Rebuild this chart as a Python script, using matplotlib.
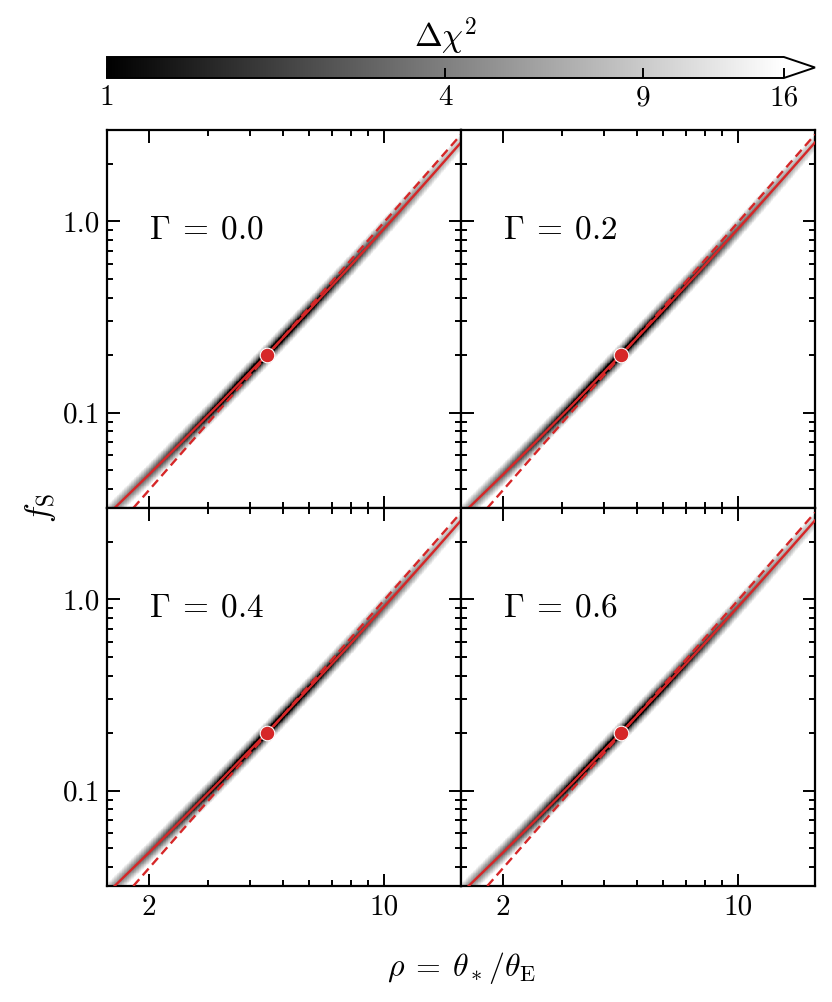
import numpy as np
import matplotlib
matplotlib.use("Agg")
import matplotlib.pyplot as plt
from matplotlib.colors import LogNorm

plt.rcParams["font.family"] = "serif"
plt.rcParams["font.serif"] = ["cmr10", "DejaVu Serif"]
plt.rcParams["mathtext.fontset"] = "cm"
plt.rcParams["axes.unicode_minus"] = False
plt.rcParams["axes.formatter.use_mathtext"] = True

# values
gammas = [0.0, 0.2, 0.4, 0.6]
best_rho = 4.48
best_fs = 0.2

# best-fit degeneracy curve (solid red)
solid_rho = [1.5, 1.58, 2.0, 2.5, 3.2, 4.48, 6.0, 8.0, 11.0, 14.0, 17.0]
solid_fs = [0.0291, 0.0318, 0.0475, 0.0702, 0.1087, 0.2, 0.344, 0.591, 1.093, 1.755, 2.583]

# fs ~ rho^2 reference line (dashed red), end points
dashed_rho = [1.797, 17.0]
dashed_fs = [0.0318, 2.84]

# width of the chi2 valley (dex): across the ridge and along it
width_across = 0.017
width_along = 0.2

xlim = (1.5, 17.0)
ylim = (0.0318, 3.0)
red = "#d62728"

fig = plt.figure(figsize=(8.32, 10.02), dpi=100)

W, H = 832.0, 1002.0
left, mid, right = 107 / W, 461 / W, 815 / W
top, hmid, bot = 1 - 130 / H, 1 - 508 / H, 1 - 886 / H
pw, ph = mid - left, top - hmid

boxes = [
    [left, hmid, pw, ph],
    [mid, hmid, right - mid, ph],
    [left, bot, pw, hmid - bot],
    [mid, bot, right - mid, hmid - bot],
]

# chi2 map grid
lx = np.linspace(np.log10(xlim[0]), np.log10(xlim[1]), 500)
ly = np.linspace(np.log10(ylim[0]), np.log10(ylim[1]), 800)
LX, LY = np.meshgrid(lx, ly)
ridge = np.interp(LX, np.log10(solid_rho), np.log10(solid_fs))
dchi2 = ((LY - ridge) / width_across) ** 2 + ((LX - np.log10(best_rho)) / width_along) ** 2
dchi2 = np.clip(dchi2, 0.5, None)

cmap = plt.get_cmap("gray").with_extremes(over="white")
norm = LogNorm(vmin=1, vmax=16)

mesh = None
for i, (box, g) in enumerate(zip(boxes, gammas)):
    ax = fig.add_axes(box)
    mesh = ax.pcolormesh(10 ** lx, 10 ** ly, dchi2, cmap=cmap, norm=norm,
                         shading="auto", rasterized=True)
    ax.plot(solid_rho, solid_fs, color=red, lw=1.7, zorder=3)
    ax.plot(dashed_rho, dashed_fs, color=red, lw=1.7, dashes=(3.8, 2.2), zorder=3)
    ax.plot([best_rho], [best_fs], "o", color=red, ms=10.5, mec="white", mew=0.8, zorder=4)
    ax.set_xscale("log")
    ax.set_yscale("log")
    ax.set_xlim(xlim)
    ax.set_ylim(ylim)
    ax.set_xticks([2, 10])
    ax.set_xticks([3, 4, 5, 6, 7, 8, 9], minor=True)
    ax.set_yticks([0.1, 1.0])
    ax.set_yticks([0.04, 0.05, 0.06, 0.07, 0.08, 0.09, 0.2, 0.3, 0.4, 0.5,
                   0.6, 0.7, 0.8, 0.9, 2, 3], minor=True)
    ax.xaxis.set_minor_formatter(plt.NullFormatter())
    ax.yaxis.set_minor_formatter(plt.NullFormatter())
    ax.tick_params(which="both", direction="in", top=True, right=True,
                   width=1.4, labelsize=21)
    ax.tick_params(which="major", length=9)
    ax.tick_params(which="minor", length=4.5)
    ax.tick_params(axis="x", pad=6)
    ax.tick_params(axis="y", pad=5)
    if i >= 2:
        ax.set_xticklabels(["2", "10"])
    else:
        ax.set_xticklabels([])
    if i % 2 == 0:
        ax.set_yticklabels(["0.1", "1.0"])
    else:
        ax.set_yticklabels([])
    for s in ax.spines.values():
        s.set_linewidth(1.6)
    ax.text(0.12, 0.735, r"$\Gamma\:=\:%.1f$" % g, transform=ax.transAxes,
            fontsize=24, ha="left", va="center")

cax = fig.add_axes([left, 1 - 78 / H, right - left, 21 / H])
cb = fig.colorbar(mesh, cax=cax, orientation="horizontal", extend="max",
                  extendfrac=0.046)
cb.set_ticks([1, 4, 9, 16])
cb.set_ticklabels(["1", "4", "9", "16"])
cb.ax.minorticks_off()
cb.ax.tick_params(direction="in", length=7, width=1.4, labelsize=21, pad=5)
cb.outline.set_linewidth(1.4)
cb.set_label(r"$\Delta\chi^2$", fontsize=24, labelpad=7)
cb.ax.xaxis.set_label_position("top")

fig.text(40 / W, 1 - 508 / H, r"$f_{\rm S}$", rotation=90, fontsize=24,
         ha="center", va="center")
fig.text(461 / W, 1 - 968 / H, r"$\rho\:=\:\theta_*/\theta_{\rm E}$", fontsize=23,
         ha="center", va="center")

fig.savefig("out.png", dpi=100)
